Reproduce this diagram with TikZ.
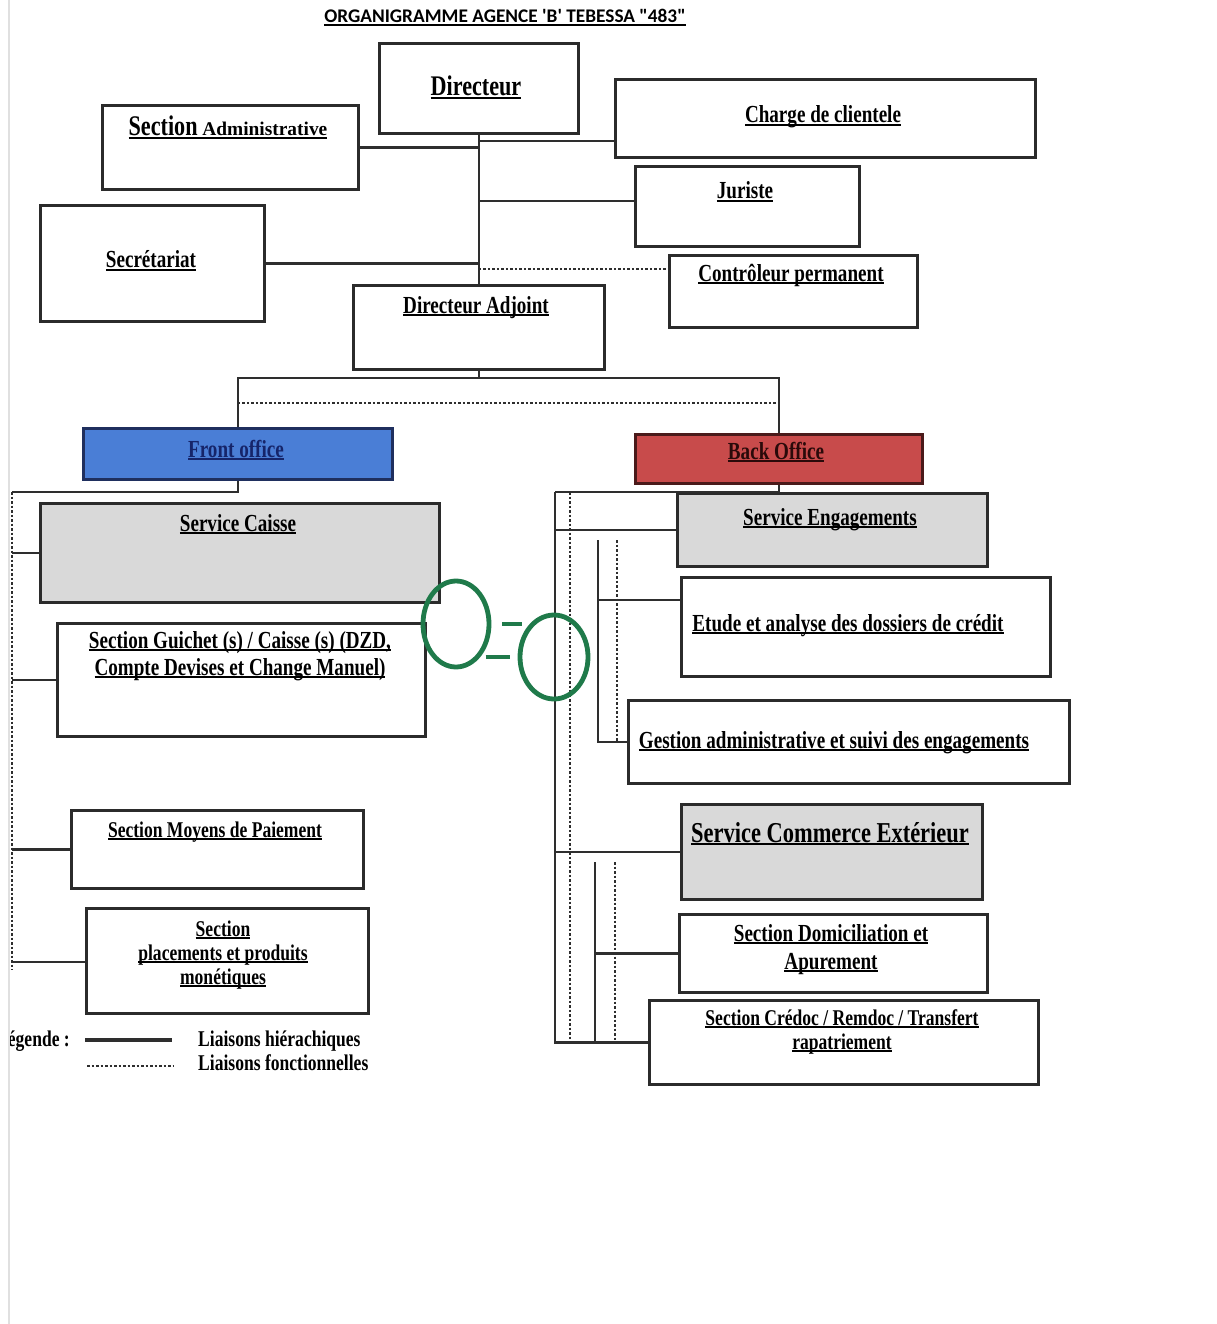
\documentclass[tikz,border=0pt]{standalone}
\usepackage{fontspec}
\usetikzlibrary{shapes.geometric}
\newfontfamily\cf[FakeStretch=0.78]{Liberation Serif}
\newfontfamily\cfw{Liberation Serif}
\newfontfamily\tf{Carlito}
% underline drawn as a thick rule under the text
\newcommand\ulx[1]{\setbox0=\hbox{#1}\leavevmode\rlap{\raisebox{-3.2pt}{\rule{\wd0}{1.8pt}}}\box0}
\definecolor{edge}{HTML}{2B2B2B}
\definecolor{link}{HTML}{2E2E2E}
\definecolor{frontblue}{HTML}{4A7ED6}
\definecolor{frontedge}{HTML}{1F2F5E}
\definecolor{frontink}{HTML}{16256A}
\definecolor{backred}{HTML}{C84B4B}
\definecolor{backedge}{HTML}{4A1A1A}
\definecolor{backink}{HTML}{2A0A0A}
\definecolor{svcgrey}{HTML}{D9D9D9}
\definecolor{ringgreen}{HTML}{1F7A4A}
\tikzset{
  box/.style={draw=edge, line width=2.8pt, anchor=north west, inner sep=0pt, fill=white},
  greybox/.style={box, fill=svcgrey},
  lbl/.style={anchor=base, inner sep=0pt, font=\cf\bfseries\fontsize{24.5}{28}\selectfont},
  smalllbl/.style={lbl, font=\cf\bfseries\fontsize{22.5}{26}\selectfont},
  hier/.style={draw=link, line width=2.5pt},
  func/.style={draw=link, line width=2.2pt, dash pattern=on 2.5pt off 2pt},
  ring/.style={ellipse, draw=ringgreen, line width=4.8pt, inner sep=0pt},
  ringdash/.style={draw=ringgreen, line width=4.8pt},
}
\begin{document}
\begin{tikzpicture}[x=1pt,y=-1pt]
\useasboundingbox (0,0) rectangle (1216,1324);
\fill[white] (0,0) rectangle (1216,1324);
% page edge
\draw[black!12, line width=1.5pt] (9,0) -- (9,1324);
\begin{scope}
\clip (10,0) rectangle (1216,1324);

% title
\node[anchor=base, inner sep=0pt, font=\tf\bfseries\fontsize{19.3}{22}\selectfont] (title) at (505,23)
  {\ulx{ORGANIGRAMME AGENCE 'B' TEBESSA "483"}};

% ---- upper management ----
\node[box, minimum width=199pt, minimum height=90pt] (dir) at (378,42) {};
\node[box, minimum width=256pt, minimum height=84pt] (secadm) at (101,104) {};
\node[box, minimum width=420pt, minimum height=78pt] (cc) at (614,78) {};
\node[box, minimum width=224pt, minimum height=80pt] (jur) at (634,165) {};
\node[box, minimum width=248pt, minimum height=72pt] (ctrl) at (668,254) {};
\node[box, minimum width=224pt, minimum height=116pt] (sec) at (39,204) {};
\node[box, minimum width=251pt, minimum height=84pt] (diradj) at (352,284) {};

\node[lbl, font=\cf\bfseries\fontsize{28.4}{32}\selectfont] (tdir) at (476,96) {\ulx{Directeur}};
\node[lbl] (tsecadm) at (228,136) {\ulx{{\fontsize{28.4}{32}\selectfont Section} {\cfw\fontsize{19.4}{22}\selectfont Administrative}}};
\node[lbl] (tcc) at (823,123) {\ulx{Charge de clientele}};
\node[lbl] (tjur) at (745,199) {\ulx{Juriste}};
\node[lbl] (tctrl) at (791,281) {\ulx{Contrôleur permanent}};
\node[lbl] (tsec) at (151,268) {\ulx{Secrétariat}};
\node[lbl] (tdiradj) at (476,313) {\ulx{Directeur Adjoint}};

% ---- offices ----
\node[box, fill=frontblue, draw=frontedge, minimum width=309pt, minimum height=51pt] (front) at (82,427) {};
\node[box, fill=backred, draw=backedge, minimum width=287pt, minimum height=49pt] (back) at (634,433) {};
\node[lbl, text=frontink] (tfront) at (236,457) {\ulx{Front office}};
\node[lbl, text=backink] (tback) at (776,459) {\ulx{Back Office}};

% ---- front office units ----
\node[greybox, minimum width=399pt, minimum height=99pt] (caisse) at (39,502) {};
\node[box, minimum width=368pt, minimum height=113pt] (guichet) at (56,622) {};
\node[box, minimum width=292pt, minimum height=78pt] (moyens) at (70,809) {};
\node[box, minimum width=282pt, minimum height=105pt] (plac) at (85,907) {};

\node[lbl] (tcaisse) at (238,531) {\ulx{Service Caisse}};
\node[lbl] (tguichetA) at (240,648) {\ulx{Section Guichet (s) / Caisse (s) (DZD,}};
\node[lbl] (tguichetB) at (240,675) {\ulx{Compte Devises et Change Manuel)}};
\node[smalllbl] (tmoyens) at (215,837) {\ulx{Section Moyens de Paiement}};
\node[smalllbl] (tplacA) at (223,936) {\ulx{Section}};
\node[smalllbl] (tplacB) at (223,960) {\ulx{placements et produits}};
\node[smalllbl] (tplacC) at (223,984) {\ulx{monétiques}};

% ---- back office units ----
\node[greybox, minimum width=310pt, minimum height=73pt] (eng) at (676,492) {};
\node[box, minimum width=369pt, minimum height=99pt] (etude) at (680,576) {};
\node[box, minimum width=441pt, minimum height=83pt] (gestion) at (627,699) {};
\node[greybox, minimum width=301pt, minimum height=95pt] (comext) at (680,803) {};
\node[box, minimum width=308pt, minimum height=78pt] (domic) at (678,913) {};
\node[box, minimum width=389pt, minimum height=84pt] (credoc) at (648,999) {};

\node[lbl] (teng) at (830,525) {\ulx{Service Engagements}};
\node[lbl] (tetude) at (848,631) {\ulx{Etude et analyse des dossiers de crédit}};
\node[lbl] (tgestion) at (834,748) {\ulx{Gestion administrative et suivi des engagements}};
\node[lbl, font=\cf\bfseries\fontsize{28.8}{32}\selectfont] (tcomext) at (830,842) {\ulx{Service Commerce Extérieur}};
\node[lbl] (tdomicA) at (831,941) {\ulx{Section Domiciliation et}};
\node[lbl] (tdomicB) at (831,969) {\ulx{Apurement}};
\node[smalllbl] (tcredocA) at (842,1025) {\ulx{Section Crédoc / Remdoc / Transfert}};
\node[smalllbl] (tcredocB) at (842,1049) {\ulx{rapatriement}};

% ---- links: management ----
\draw[hier] (dir.south) -- (diradj.north);
\draw[hier] (secadm.east) -- (secadm.east -| dir.south);
\draw[hier] (dir.south |- 0,141) -- (cc.west |- 0,141);
\draw[hier] (dir.south |- 0,201) -- (jur.west |- 0,201);
\draw[hier] (sec.east) -- (sec.east -| dir.south);
\draw[func] (dir.south |- 0,269) -- (ctrl.west |- 0,269);

% ---- links: offices ----
\coordinate (bus) at (diradj.south |- 0,378);
\draw[hier] (diradj.south) -- (bus);
\draw[hier] (front.north) |- (bus) -| (back.north);
\draw[func] (front.north |- 0,403) -- (back.north |- 0,403);

% ---- links: front office ----
\coordinate (fl) at (12,492);
\coordinate (flend) at (12,970);
\draw[hier] (front.south) |- (fl);
\draw[func] (fl) -- (flend);
\draw[hier] (caisse.west) -- (caisse.west -| fl);
\draw[hier] (guichet.west) -- (guichet.west -| fl);
\draw[hier] (moyens.west) -- (moyens.west -| fl);
\draw[hier] (plac.west |- 0,962) -- (fl |- 0,962);

% ---- links: back office ----
\coordinate (bl) at (555,492);
\coordinate (bdot) at (570,492);
\draw[hier] (back.south) |- (bl);
\draw[hier] (credoc.west) -| (bl);
\draw[func] (bdot) -- (bdot |- credoc.west);
\draw[hier] (eng.west) -- (eng.west -| bl);
\draw[hier] (comext.west) -- (comext.west -| bl);
% engagement sub-units
\coordinate (s1) at (598,540);
\coordinate (s1dot) at (617,540);
\draw[hier] (s1) |- (gestion.west);
\draw[func] (s1dot) -- (s1dot |- gestion.west);
\draw[hier] (etude.west |- 0,600) -- (s1 |- 0,600);
% foreign trade sub-units
\coordinate (s2) at (595,862);
\coordinate (s2dot) at (615,862);
\draw[hier] (s2) -- (s2 |- credoc.west);
\draw[func] (s2dot) -- (s2dot |- credoc.west);
\draw[hier] (domic.west) -- (domic.west -| s2);

% ---- green rings ----
\node[ring, minimum width=66pt, minimum height=86pt] (o1) at (456,624) {};
\node[ring, minimum width=68pt, minimum height=84pt] (o2) at (554,657) {};
\draw[ringdash] (o1.east) ++(11,0) -- ++(20,0);
\draw[ringdash] (o2.west) ++(-32,0) -- ++(24,0);

% ---- legend ----
\node[smalllbl, anchor=base east] (tleg) at (70,1046) {Légende :};
\coordinate (lh1) at (85,1040);
\coordinate (lh2) at (172,1040);
\coordinate (lf1) at (87,1066);
\coordinate (lf2) at (173,1066);
\draw[hier, line width=3.8pt] (lh1) -- (lh2);
\draw[func] (lf1) -- (lf2);
\node[smalllbl, anchor=base west] (tlh) at (198,1046) {Liaisons hiérachiques};
\node[smalllbl, anchor=base west] (tlf) at (198,1070) {Liaisons fonctionnelles};
\end{scope}
\end{tikzpicture}
\end{document}
